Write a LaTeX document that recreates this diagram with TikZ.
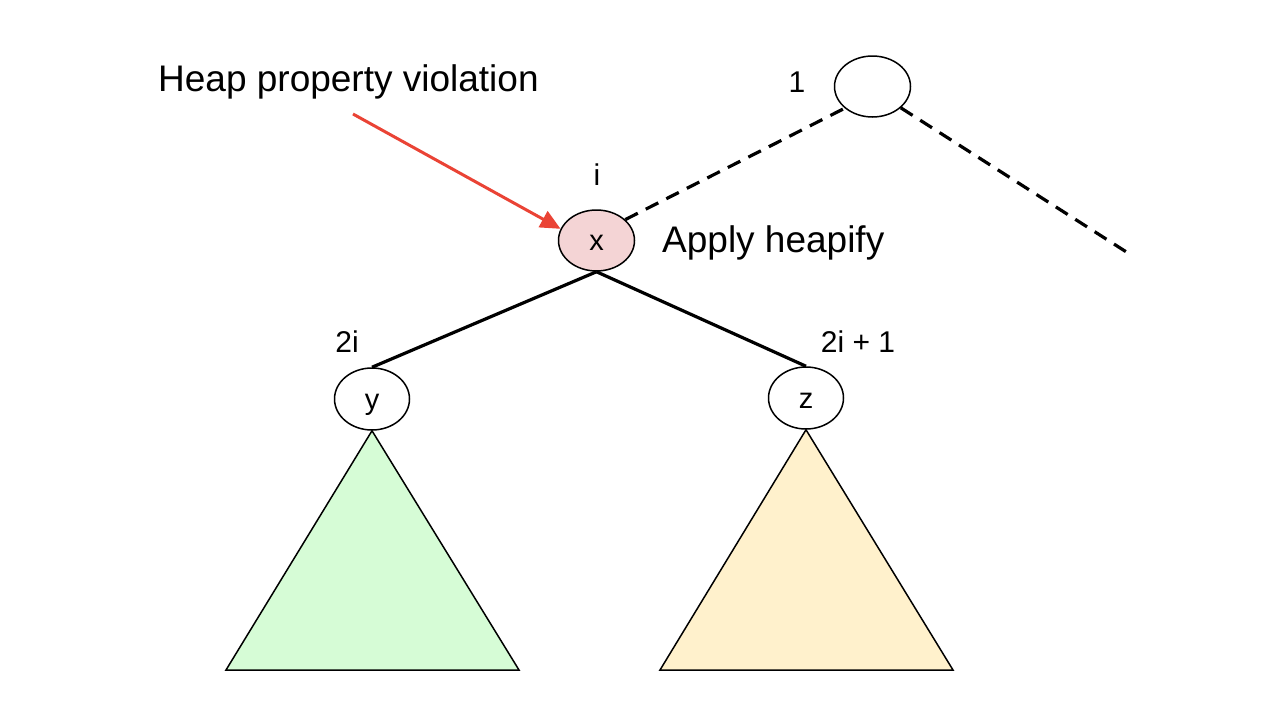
\documentclass[tikz,border=0pt]{standalone}
\usepackage{fontspec}
\setmainfont{Liberation Sans}
\usetikzlibrary{shapes.geometric,arrows.meta}
\definecolor{heapred}{HTML}{EA4335}
\definecolor{pinkfill}{HTML}{F4D4D5}
\definecolor{greenfill}{HTML}{D6FCD6}
\definecolor{yellowfill}{HTML}{FFF1CC}
\begin{document}
\begin{tikzpicture}[x=1pt,y=-1pt,
  treenode/.style={ellipse,draw=black,line width=1.5pt,minimum width=76pt,minimum height=61pt,inner sep=0pt,text height=20pt,text depth=0pt,font=\fontsize{29}{32}\selectfont},
  lbl/.style={inner sep=0pt,font=\fontsize{30}{33}\selectfont},
  big/.style={inner sep=0pt,font=\fontsize{37}{42}\selectfont},
  edgeline/.style={line width=3.2pt,black},
  dashedge/.style={line width=3.2pt,black,dash pattern=on 14pt off 9pt},
  subtree/.style={draw=black,line width=1.5pt,line join=miter},
  redarrow/.style={line width=3pt,heapred,-{Triangle[length=20pt,width=18pt]}}]
\useasboundingbox (0,0) rectangle (1280,720);
\node[treenode] (root) at (872.5,86.5) {};
\node[treenode,fill=pinkfill] (x) at (596.5,240.5) {x};
\node[treenode,minimum width=75pt,minimum height=62pt] (y) at (372,399) {y};
\node[treenode,minimum width=75pt,minimum height=62pt] (z) at (806,398) {z};
\coordinate (rightend) at (1128,253);
\coordinate (arrstart) at (353,114);
% subtrees
\draw[subtree,fill=greenfill] (y.south) -- (226,670) -- (519,670) -- cycle;
\draw[subtree,fill=yellowfill] (z.south) -- (660,670) -- (953,670) -- cycle;
% edges
\draw[edgeline] (x.south) -- (y.north);
\draw[edgeline] (x.south) -- (z.north);
\draw[dashedge] (x.36) -- (root.218);
\draw[dashedge] (root.323) -- (rightend);
% labels
\node[lbl] (l1) at (797,82) {1};
\node[lbl] (li) at (597,175) {i};
\node[lbl] (l2i) at (347,342) {2i};
\node[lbl] (l2i1) at (858,342) {2i + 1};
\node[big,anchor=west] (apply) at (662,243) {Apply heapify};
\node[big,anchor=west] (heap) at (158,82) {Heap property violation};
\draw[redarrow] (arrstart) -- (x.162);
\end{tikzpicture}
\end{document}
